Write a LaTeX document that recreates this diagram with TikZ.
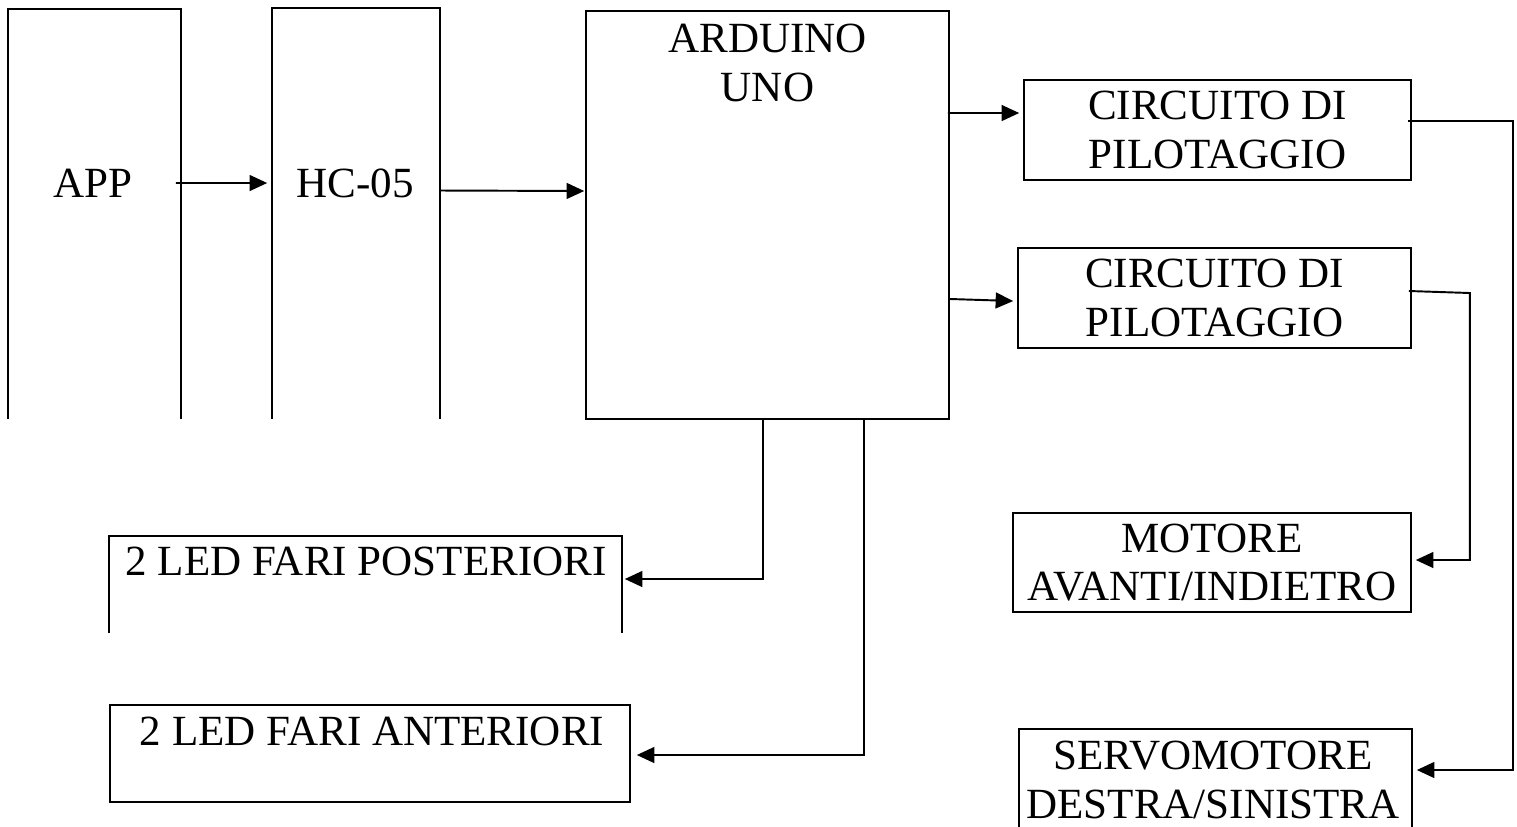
\documentclass[tikz,border=0pt]{standalone}
\usepackage{fontspec}
\setmainfont{Liberation Serif}
\usetikzlibrary{arrows.meta}
\tikzset{
  bloc/.style={line width=0.95pt, inner sep=0pt, align=center, font=\fontsize{24.5}{27.5}\selectfont},
  texte/.style={inner sep=0pt, align=center, font=\fontsize{24.5}{27.5}\selectfont},
  fleche/.style={line width=1.1pt, -{Triangle[length=10pt,width=9pt]}}
}

\begin{document}
\begin{tikzpicture}[x=0.02cm, y=-0.02cm]
\useasboundingbox (0,0) rectangle (1517,826);

% blocs ouverts en bas
\node[bloc, minimum width=3.42cm, minimum height=8.16cm] (app) at (94.5,214) {};
\draw[bloc] (app.south west)--(app.north west)--(app.north east)--(app.south east);
\node[texte, anchor=base] (apptxt) at (93,197) {APP};

\node[bloc, minimum width=3.32cm, minimum height=8.18cm] (hc) at (356,213.5) {};
\draw[bloc] (hc.south west)--(hc.north west)--(hc.north east)--(hc.south east);
\node[texte, anchor=base] (hctxt) at (355,197) {HC-05};

\node[bloc, minimum width=10.22cm, minimum height=1.9cm] (post) at (365.5,584.5) {};
\draw[bloc] (post.south west)--(post.north west)--(post.north east)--(post.south east);
\node[texte, anchor=base] (posttxt) at (366,575) {2 LED FARI POSTERIORI};

\node[bloc, minimum width=7.82cm, minimum height=1.92cm] (servo) at (1215.5,778) {};
\draw[bloc] (servo.south west)--(servo.north west)--(servo.north east)--(servo.south east);
\node[texte, anchor=north] (servotxt) at (1213,741) {SERVOMOTORE\\DESTRA/SINISTRA};

% blocs fermes
\node[bloc, draw, minimum width=7.26cm, minimum height=8.16cm] (ard) at (767.5,215) {};
\node[texte, anchor=north] (ardtxt) at (767.5,24) {ARDUINO\\UNO};
\node[bloc, draw, minimum width=7.74cm, minimum height=2cm] (c1) at (1217.5,130) {CIRCUITO DI\\PILOTAGGIO};
\node[bloc, draw, minimum width=7.86cm, minimum height=2cm] (c2) at (1214.5,298) {CIRCUITO DI\\PILOTAGGIO};
\node[bloc, draw, minimum width=7.96cm, minimum height=1.98cm] (mot) at (1212,562.5) {MOTORE\\AVANTI/INDIETRO};
\node[bloc, draw, minimum width=10.4cm, minimum height=1.94cm] (ant) at (370,753.5) {};
\node[texte, anchor=base] (anttxt) at (372,745) {2 LED FARI ANTERIORI};

% liaisons
\draw[fleche] ([xshift=-0.1cm,yshift=0.62cm]app.east) -- ([xshift=-0.1cm,yshift=0.61cm]hc.west);
\draw[fleche] ([yshift=0.46cm]hc.east) -- ([xshift=-0.02cm,yshift=0.48cm]ard.west);
\draw[fleche] ([xshift=-0.04cm,yshift=2.04cm]ard.east) -- ([xshift=-0.08cm,yshift=0.34cm]c1.west);
\draw[fleche] ([yshift=-1.68cm]ard.east) -- ([xshift=-0.08cm,yshift=-0.06cm]c2.west);
\draw[fleche] ([xshift=-0.08cm,yshift=0.18cm]c1.east) -- ++(2.1cm,0) |- ([xshift=0.1cm,yshift=0.16cm]servo.east);
\draw[fleche] ([xshift=-0.06cm,yshift=0.14cm]c2.east) -- ++(1.22cm,-0.04cm) |- ([xshift=0.08cm,yshift=0.05cm]mot.east);
\draw[fleche] ([xshift=-0.09cm]ard.south) |- ([xshift=0.06cm,yshift=0.11cm]post.east);
\draw[fleche] ([xshift=1.93cm]ard.south) |- ([xshift=0.12cm,yshift=-0.03cm]ant.east);
\end{tikzpicture}
\end{document}
